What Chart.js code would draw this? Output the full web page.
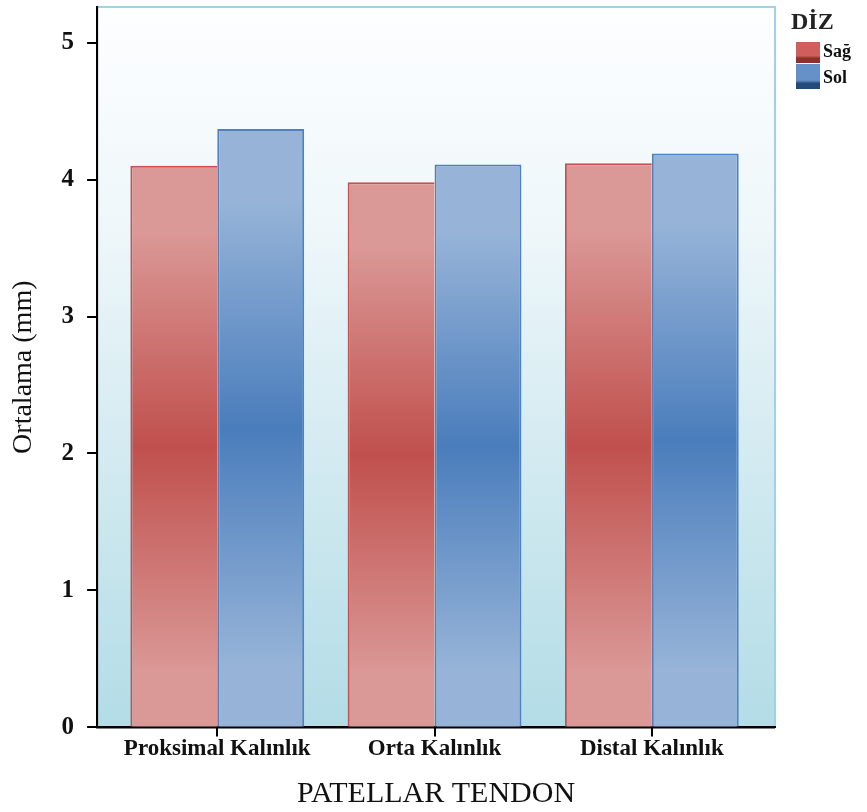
<!DOCTYPE html>
<html>
<head>
<meta charset="utf-8">
<script src="https://cdn.jsdelivr.net/npm/chart.js@4"></script>
<style>
  body { margin: 0; background: #fff; }
  #wrap { width: 867px; height: 812px; }
</style>
</head>
<body>
<div id="wrap"><canvas id="tendonChart" width="867" height="812"></canvas></div>
<script>
// data
const categories = ['Proksimal Kalınlık', 'Orta Kalınlık', 'Distal Kalınlık'];
const sagValues = [4.10, 3.98, 4.12];
const solValues = [4.37, 4.11, 4.19];
const yTicks = [0, 1, 2, 3, 4, 5];
const seriesNames = ['Sağ', 'Sol'];

const serif = '"Liberation Serif", "Times New Roman", serif';

function barGradient(ctx, light, dark) {
    const chart = ctx.chart;
    const y = chart.scales.y;
    if (!y || !chart.chartArea || !ctx.parsed) return dark;
    const top = y.getPixelForValue(ctx.parsed.y);
    const bottom = y.getPixelForValue(0);
    const g = chart.ctx.createLinearGradient(0, top, 0, bottom);
    g.addColorStop(0, light);
    g.addColorStop(0.12, light);
    g.addColorStop(0.5, dark);
    g.addColorStop(0.9, light);
    g.addColorStop(1, light);
    return g;
}

const plotBackground = {
    id: 'plotBackground',
    beforeDraw(chart) {
        const { ctx, chartArea: a } = chart;
        const g = ctx.createLinearGradient(0, a.top, 0, a.bottom);
        g.addColorStop(0, '#fdfeff');
        g.addColorStop(0.3, '#eff7fa');
        g.addColorStop(1, '#b3dce6');
        ctx.save();
        ctx.fillStyle = g;
        ctx.fillRect(a.left, a.top, a.right - a.left, a.bottom - a.top);
        ctx.strokeStyle = '#9fd3e3';
        ctx.lineWidth = 2;
        ctx.beginPath();
        ctx.moveTo(a.left, a.top);
        ctx.lineTo(a.right, a.top);
        ctx.lineTo(a.right, a.bottom);
        ctx.stroke();
        ctx.restore();
    },
    afterDatasetsDraw(chart) {
        // axis lines and tick marks on top of the bars
        const { ctx, chartArea: a } = chart;
        const xs = chart.scales.x;
        const ys = chart.scales.y;
        ctx.save();
        ctx.setLineDash([]);
        ctx.strokeStyle = '#000';
        ctx.lineWidth = 2;
        ctx.beginPath();
        ctx.moveTo(a.left, a.top);
        ctx.lineTo(a.left, a.bottom);
        ctx.lineTo(a.right, a.bottom);
        categories.forEach((c, i) => {
            const px = Math.round(xs.getPixelForValue(i));
            ctx.moveTo(px, a.bottom);
            ctx.lineTo(px, a.bottom + 9);
        });
        yTicks.forEach((v) => {
            const py = Math.round(ys.getPixelForValue(v));
            ctx.moveTo(a.left - 10, py);
            ctx.lineTo(a.left, py);
        });
        ctx.stroke();
        ctx.restore();
    }
};

// legend drawn at the right, like the original
const sideLegend = {
    id: 'sideLegend',
    afterDraw(chart) {
        const { ctx, chartArea: a } = chart;
        const x = a.right + 21;
        ctx.save();
        ctx.fillStyle = '#222';
        ctx.font = 'bold 24px ' + serif;
        ctx.textBaseline = 'alphabetic';
        ctx.fillText('DİZ', x - 5, 29);
        const boxes = [
            { y: 42, h: 21, top: '#d05e5b', bottom: '#8e2f2c' },
            { y: 64, h: 25, top: '#6590c8', bottom: '#24497a' }
        ];
        boxes.forEach((b, i) => {
            const g = ctx.createLinearGradient(0, b.y, 0, b.y + b.h);
            g.addColorStop(0, b.top);
            g.addColorStop(0.65, b.top);
            g.addColorStop(0.78, b.bottom);
            g.addColorStop(1, b.bottom);
            ctx.fillStyle = g;
            ctx.fillRect(x, b.y, 24, b.h);
            ctx.fillStyle = '#111';
            ctx.font = 'bold 18px ' + serif;
            ctx.textBaseline = 'middle';
            ctx.fillText(seriesNames[i], x + 27, i === 0 ? 52 : 78);
        });
        ctx.restore();
    }
};

new Chart(document.getElementById('tendonChart').getContext('2d'), {
    type: 'bar',
    data: {
        datasets: [{
            label: seriesNames[0],
            data: sagValues.map((v, i) => ({ x: i, y: v })),
            backgroundColor: (c) => barGradient(c, '#da9896', '#c0504d'),
            borderColor: '#c9504e',
            borderWidth: { top: 2, left: 2, right: 0, bottom: 0 },
            categoryPercentage: 0.80,
            barPercentage: 1.0
        }, {
            label: seriesNames[1],
            data: solValues.map((v, i) => ({ x: i, y: v })),
            backgroundColor: (c) => barGradient(c, '#97b4d8', '#4a7dbc'),
            borderColor: '#4f81bd',
            borderWidth: 2,
            categoryPercentage: 0.80,
            barPercentage: 1.0
        }]
    },
    options: {
        responsive: false,
        animation: false,
        layout: { padding: { top: 7, right: 92, left: 7, bottom: 0 } },
        plugins: {
            tooltip: { enabled: false },
            legend: { display: false }
        },
        scales: {
            x: {
                type: 'linear',
                offset: false,
                min: -0.553,
                max: 2.567,
                afterBuildTicks(axis) {
                    axis.ticks = categories.map((c, i) => ({ value: i }));
                },
                grid: {
                    offset: false,
                    drawOnChartArea: false,
                    drawTicks: false,
                    tickLength: 8,
                    color: '#000'
                },
                border: { display: true, color: '#000', width: 2 },
                ticks: {
                    color: '#111',
                    padding: 7.5,
                    autoSkip: false,
                    maxRotation: 0,
                    callback: (v) => categories[v],
                    font: { family: serif, size: 23, weight: 'bold' }
                },
                title: {
                    display: true,
                    text: 'PATELLAR TENDON',
                    color: '#111',
                    font: { family: serif, size: 30 },
                    padding: { top: 6, bottom: 0 }
                }
            },
            y: {
                min: 0,
                max: 5.26,
                afterBuildTicks(axis) {
                    axis.ticks = yTicks.map(v => ({ value: v }));
                },
                grid: {
                    drawOnChartArea: false,
                    drawTicks: true,
                    tickLength: 23,
                    tickColor: 'rgba(0,0,0,0)',
                    color: '#000'
                },
                border: { display: true, color: '#000', width: 2 },
                ticks: {
                    color: '#111',
                    padding: 0,
                    font: { family: serif, size: 25, weight: 'bold', lineHeight: 0.5 }
                },
                title: {
                    display: true,
                    text: 'Ortalama (mm)',
                    color: '#111',
                    font: { family: serif, size: 28 },
                    padding: { top: 0, bottom: 21 }
                }
            }
        }
    },
    plugins: [plotBackground, sideLegend]
});
</script>
</body>
</html>
